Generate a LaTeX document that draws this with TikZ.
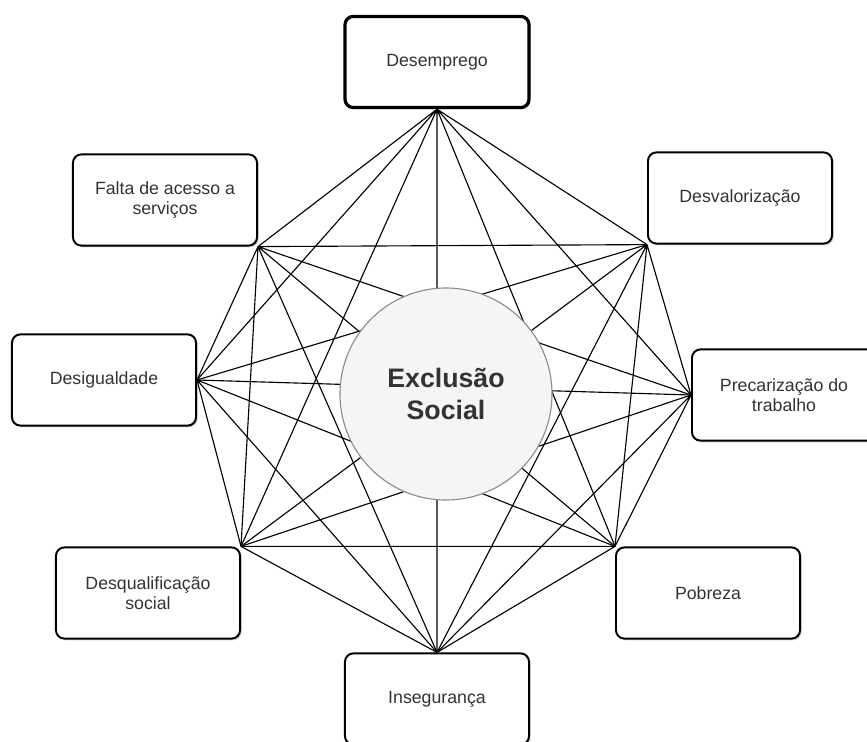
\documentclass[tikz,border=0pt]{standalone}
\usepackage{fontspec}
\setmainfont{Liberation Sans}
\usetikzlibrary{shadows}
\definecolor{txtgray}{HTML}{333333}
\definecolor{circfill}{HTML}{F5F5F5}
\definecolor{circdraw}{HTML}{8C8C8C}

\begin{document}
\begin{tikzpicture}[x=0.025cm, y=-0.025cm]
%define
\tikzstyle{factor} = [rectangle, rounded corners=12pt*0.5, minimum width=4.6cm, minimum height=2.28cm, text centered, align=center, draw=black, line width=1.4pt, fill=white, text=txtgray, font=\fontsize{12.6}{13.8}\selectfont, drop shadow={shadow xshift=1.2pt, shadow yshift=-1.2pt, opacity=0.35}]
\tikzstyle{factor_b} = [factor, line width=2.3pt]
\tikzstyle{core} = [circle, minimum size=5.3cm, draw=circdraw, line width=0.8pt, fill=circfill, text=txtgray, align=center, font=\fontsize{19}{22.5}\selectfont\bfseries]
\tikzstyle{edge} = [black, line width=0.8pt]

%frame
\clip (0,0) rectangle (867,742);

%boxes
\node[factor_b](fac_Desemprego) at (437,62){Desemprego};
\node[factor](fac_Falta) at (165,200){Falta de acesso a\\serviços};
\node[factor](fac_Desval) at (740,198){Desvalorização};
\node[factor](fac_Desig) at (104,380){Desigualdade};
\node[factor](fac_Prec) at (784,395){Precarização do\\trabalho};
\node[factor](fac_Desqual) at (148,593){Desqualificação\\social};
\node[factor](fac_Pobreza) at (708,593){Pobreza};
\node[factor](fac_Inseg) at (437,699){Insegurança};

%line
\draw[edge](fac_Desemprego.south)--(fac_Falta.south east) (fac_Desemprego.south)--(fac_Desval.south west)
  (fac_Desemprego.south)--(fac_Desig.east) (fac_Desemprego.south)--(fac_Prec.west)
  (fac_Desemprego.south)--(fac_Desqual.north east) (fac_Desemprego.south)--(fac_Pobreza.north west)
  (fac_Desemprego.south)--(fac_Inseg.north); %Desemprego->all
\draw[edge](fac_Falta.south east)--(fac_Desval.south west) (fac_Falta.south east)--(fac_Desig.east)
  (fac_Falta.south east)--(fac_Prec.west) (fac_Falta.south east)--(fac_Desqual.north east)
  (fac_Falta.south east)--(fac_Pobreza.north west) (fac_Falta.south east)--(fac_Inseg.north); %Falta->rest
\draw[edge](fac_Desval.south west)--(fac_Desig.east) (fac_Desval.south west)--(fac_Prec.west)
  (fac_Desval.south west)--(fac_Desqual.north east) (fac_Desval.south west)--(fac_Pobreza.north west)
  (fac_Desval.south west)--(fac_Inseg.north); %Desvalorizacao->rest
\draw[edge](fac_Desig.east)--(fac_Prec.west) (fac_Desig.east)--(fac_Desqual.north east)
  (fac_Desig.east)--(fac_Pobreza.north west) (fac_Desig.east)--(fac_Inseg.north); %Desigualdade->rest
\draw[edge](fac_Prec.west)--(fac_Desqual.north east) (fac_Prec.west)--(fac_Pobreza.north west)
  (fac_Prec.west)--(fac_Inseg.north); %Precarizacao->rest
\draw[edge](fac_Desqual.north east)--(fac_Pobreza.north west) (fac_Desqual.north east)--(fac_Inseg.north);
\draw[edge](fac_Pobreza.north west)--(fac_Inseg.north);

%center
\node[core](core_Exclusao) at (446,394){Exclusão\\Social};

\end{tikzpicture}
\end{document}
